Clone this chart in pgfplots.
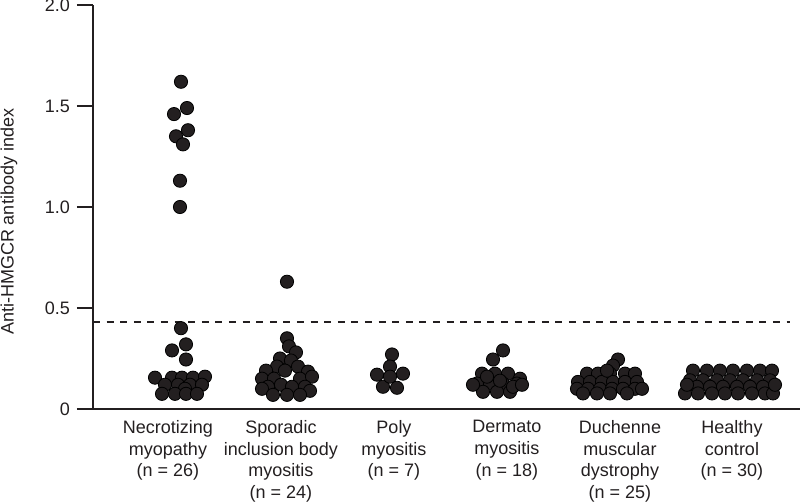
\documentclass[border=0pt]{standalone}
\usepackage{fontspec}
\setmainfont{Liberation Sans}
\usepackage{pgfplots}
\pgfplotsset{compat=1.18}
\definecolor{ink}{RGB}{35,31,32}
\pgfplotsset{dots/.style={only marks,mark=*,mark size=3.3pt,mark options={fill=ink,draw=none}}}

\begin{document}
\begin{tikzpicture}
\begin{axis}[
  scale only axis,
  width=353.5pt,height=202pt,
  xmin=93,xmax=800,ymin=0,ymax=2,
  axis x line*=bottom,axis y line*=left,
  axis line style={ink,line width=0.9pt,-},
  ytick={0,0.5,1,1.5,2},
  yticklabels={0,0.5,1.0,1.5,2.0},
  ytick pos=left,tick align=outside,
  major tick length=8pt,
  ytick style={ink,line width=0.9pt},
  xtick={168,281,394,507,620,732},
  xticklabels={
    Necrotizing\\myopathy\\(n = 26),
    Sporadic\\inclusion body\\myositis\\(n = 24),
    Poly\\myositis\\(n = 7),
    Dermato\\myositis\\(n = 18),
    Duchenne\\muscular\\dystrophy\\(n = 25),
    Healthy\\control\\(n = 30)},
  xtick style={draw=none},
  xticklabel style={align=center,anchor=north,yshift=5.8pt},
  tick label style={font=\fontsize{9}{10.8}\selectfont,text=ink},
  /pgf/number format/assume math mode=true,
  ylabel={Anti-HMGCR antibody index},
  ylabel style={font=\fontsize{9}{11}\selectfont,text=ink,at={(axis description cs:-0.119,0.463)},anchor=center},
]
\coordinate (ll) at (axis cs:93,0);
\coordinate (ur) at (axis cs:800,2);
% cut-off
\addplot[ink,line width=0.75pt,dash pattern=on 3.5pt off 3.3pt]
  coordinates {(93,0.43)(790,0.43)};
% necrotizing myopathy
\addplot[dots] coordinates {(181,1.62)(187,1.49)(174,1.46)(188,1.38)(176,1.35)(183,1.31)(180,1.13)(180,1.00)
  (181,0.40)(172,0.29)(186,0.32)(186,0.245)
  (155,0.155)(172,0.155)(182,0.155)(193,0.155)(205,0.16)(165,0.12)(178,0.12)(190,0.12)(202,0.12)
  (185,0.10)(162,0.075)(175,0.075)(186,0.075)(197,0.075)};
% sporadic inclusion body myositis
\addplot[dots] coordinates {(287,0.63)(287,0.35)(289,0.31)(296,0.28)(280,0.25)(291,0.24)(277,0.21)(298,0.21)
  (266,0.19)(308,0.185)(285,0.19)(262,0.15)(274,0.15)(300,0.15)(312,0.16)(268,0.11)(281,0.12)
  (292,0.11)(305,0.11)(262,0.10)(310,0.09)(273,0.07)(287,0.07)(300,0.07)};
% polymyositis
\addplot[dots] coordinates {(392,0.27)(390,0.21)(377,0.17)(403,0.175)(383,0.11)(397,0.105)(390,0.16)};
% dermatomyositis
\addplot[dots] coordinates {(503,0.29)(493,0.245)(482,0.175)(495,0.175)(508,0.175)(520,0.15)(477,0.126)
  (490,0.126)(503,0.126)(517,0.126)(483,0.085)(497,0.085)(510,0.085)(487,0.16)(500,0.14)(513,0.11)
  (473,0.12)(522,0.12)};
% duchenne
\addplot[dots] coordinates {(618,0.245)(613,0.215)(587,0.175)(598,0.175)(610,0.175)(625,0.175)(635,0.175)
  (578,0.134)(590,0.134)(602,0.134)(613,0.134)(625,0.134)(637,0.134)(577,0.10)(588,0.10)(600,0.10)
  (612,0.10)(623,0.10)(635,0.10)(642,0.10)(583,0.077)(597,0.077)(610,0.077)(627,0.077)(607,0.19)};
% healthy control
\addplot[dots] coordinates {(693,0.19)(707,0.19)(720,0.19)(733,0.19)(747,0.19)(760,0.19)(772,0.19)
  (690,0.142)(703,0.142)(717,0.142)(730,0.142)(743,0.142)(757,0.142)(770,0.142)
  (697,0.11)(710,0.11)(723,0.11)(737,0.11)(750,0.11)(763,0.11)
  (685,0.077)(698,0.077)(712,0.077)(725,0.077)(738,0.077)(752,0.077)(765,0.077)(773,0.077)
  (687,0.12)(775,0.12)};
\end{axis}
% page the size of the reference: 800x503 px at 0.5pt per px
\pgfresetboundingbox
\path ([xshift=-46.5pt,yshift=-47pt]ll) rectangle ([yshift=2.5pt]ur);
\end{tikzpicture}
\end{document}
